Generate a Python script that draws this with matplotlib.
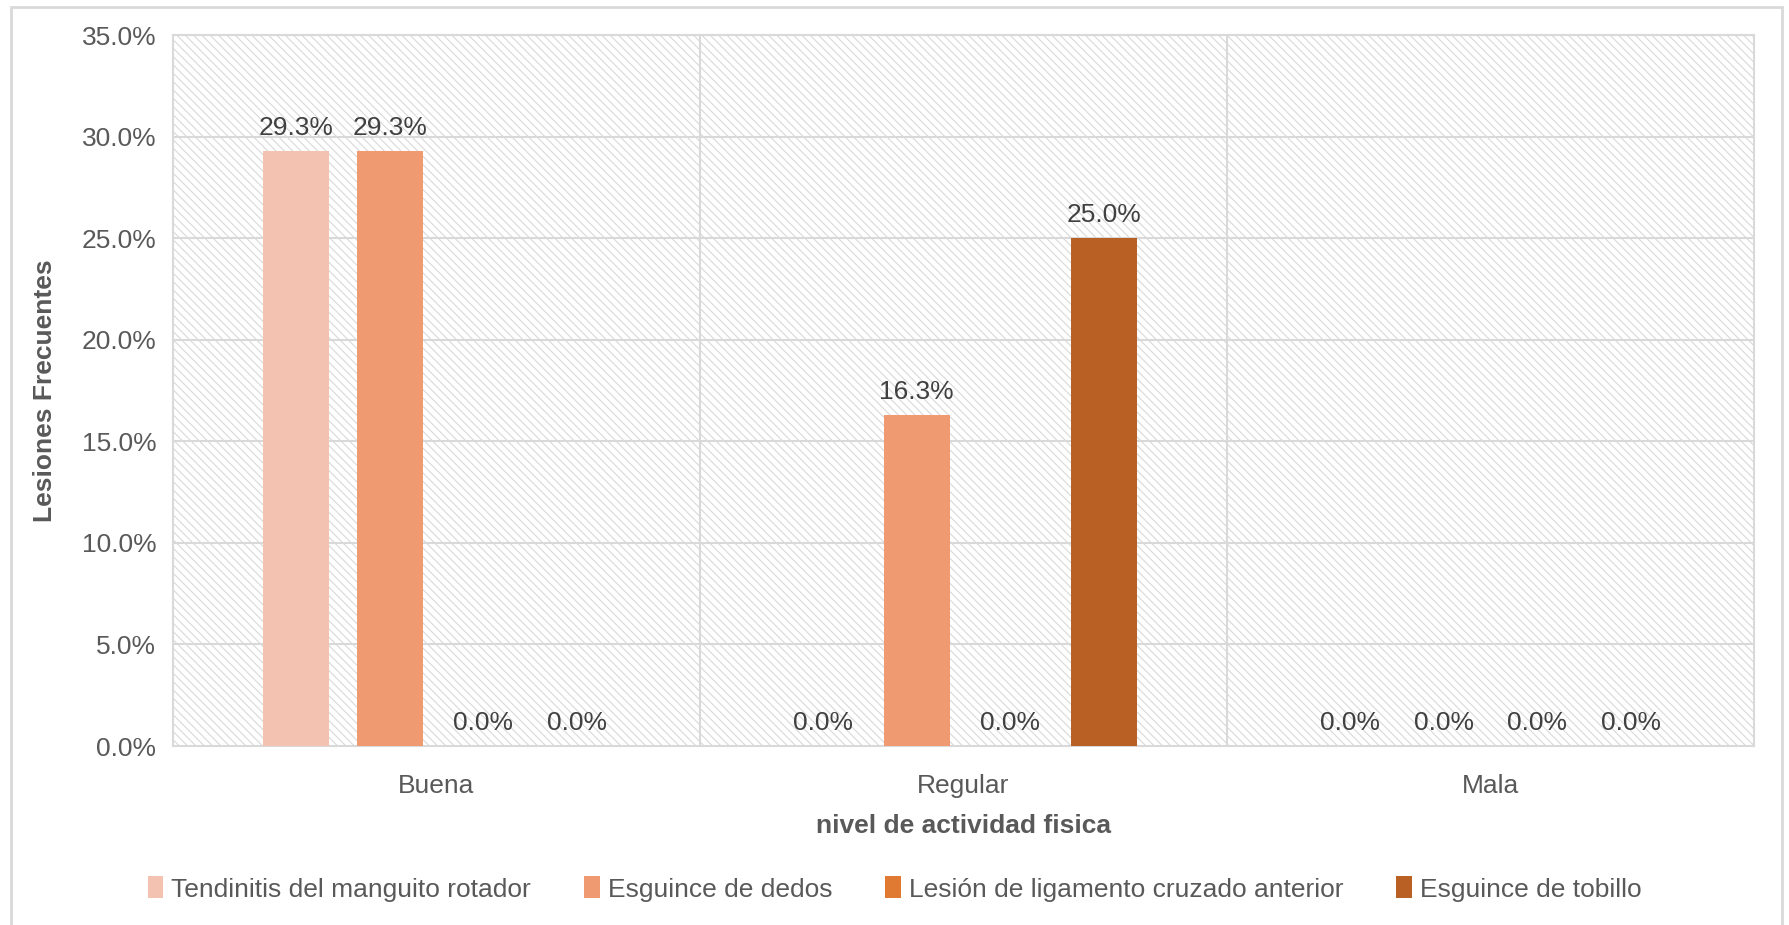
import matplotlib.pyplot as plt
from matplotlib.patches import Rectangle
import numpy as np

# Data
categories = ['Buena', 'Regular', 'Mala']
series = ['Tendinitis del manguito rotador', 'Esguince de dedos',
          'Lesión de ligamento cruzado anterior', 'Esguince de tobillo']
tendinitis = [29.3, 0.0, 0.0]
esguince_dedos = [29.3, 16.3, 0.0]
ligamento = [0.0, 0.0, 0.0]
esguince_tobillo = [0.0, 25.0, 0.0]
colors = ['#F4C2B1', '#F09A72', '#E07A32', '#B96024']

plt.rcParams['font.family'] = ['Liberation Sans Narrow', 'Liberation Sans', 'DejaVu Sans']
plt.rcParams['hatch.color'] = '#D9D9D9'
plt.rcParams['hatch.linewidth'] = 0.8

fig = plt.figure(figsize=(17.89, 9.25), dpi=100)
ax = fig.add_axes([0.0967, 0.1935, 0.8837, 0.7686])

# outer chart frame
fig.patches.append(Rectangle((11 / 1789, -0.01), (1782 - 11) / 1789, (925 - 7) / 925 + 0.01,
                             transform=fig.transFigure, fill=False,
                             edgecolor='#D9D9D9', linewidth=2))

# hatched plot area
ax.patch.set_facecolor('white')
ax.patch.set_hatch('\\\\\\\\')
ax.patch.set_edgecolor('#D9D9D9')

x = np.arange(len(categories))
pitch = 0.178
width = 0.125
values = [tendinitis, esguince_dedos, ligamento, esguince_tobillo]
for i, (vals, name, c) in enumerate(zip(values, series, colors)):
    pos = x + (i - 1.5) * pitch
    ax.bar(pos, vals, width, color=c, label=name, zorder=3)
    for p, v in zip(pos, vals):
        ax.annotate(f'{v:.1f}%', (p, v), xytext=(0, 8), textcoords='offset points',
                    ha='center', va='bottom', fontsize=19, color='#404040', zorder=4)

ax.set_xlim(-0.5, 2.5)
ax.set_ylim(0, 35)
ax.set_yticks(np.arange(0, 36, 5))
ax.set_yticklabels([f'{t:.1f}%' for t in np.arange(0, 36, 5)])
ax.set_xticks(x)
ax.set_xticklabels(categories)
ax.tick_params(axis='y', length=0, labelsize=19, colors='#595959', pad=12)
ax.tick_params(axis='x', length=0, labelsize=19, colors='#595959', pad=20)

# grid: horizontal gridlines and vertical separators between categories
for yv in np.arange(5, 36, 5):
    ax.axhline(yv, color='#D9D9D9', linewidth=1.5, zorder=1)
for xv in [0.5, 1.5]:
    ax.axvline(xv, color='#D9D9D9', linewidth=1.5, zorder=1)
for s in ax.spines.values():
    s.set_color('#D9D9D9')
    s.set_linewidth(1.5)

ax.set_ylabel('Lesiones Frecuentes', fontsize=19, fontweight='bold', color='#595959', labelpad=18)
ax.set_xlabel('nivel de actividad fisica', fontsize=19, fontweight='bold', color='#595959', labelpad=12)

fig.legend(loc='center', bbox_to_anchor=(0.5, 1 - 889 / 925), ncol=4, frameon=False,
           fontsize=19, labelcolor='#595959', handlelength=0.6, handleheight=0.9,
           handletextpad=0.3, columnspacing=2.0)

fig.savefig('out.png', dpi=100)
